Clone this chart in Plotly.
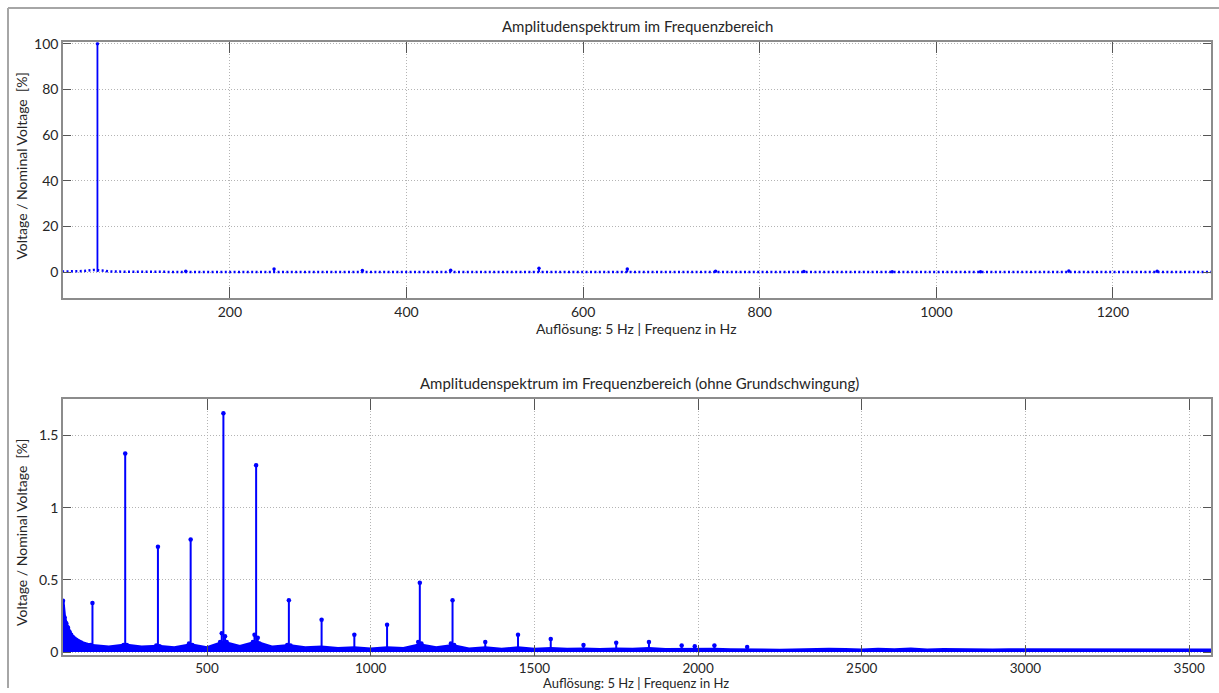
import plotly.graph_objects as go

# ---------------- data ----------------
# fundamental
fund_freq = [50]
fund_amp = [100.0]

# bins below / right next to the fundamental (upper chart only)
low_freq = [10, 15, 20, 25, 30, 35, 40, 45, 55]
low_amp = [0.2, 0.2, 0.25, 0.3, 0.35, 0.45, 0.7, 0.9, 0.7]

# low-frequency decay right of the fundamental (5 Hz bins)
decay_freq = [60, 65, 70, 75, 80, 85, 90, 95, 100, 105, 110, 115, 120, 125, 130, 135, 140, 145]
decay_amp = [0.355, 0.24, 0.2, 0.17, 0.14, 0.12, 0.105, 0.095, 0.085, 0.078, 0.072, 0.066,
             0.06, 0.056, 0.052, 0.05, 0.048, 0.05]

# harmonic peaks
harm_freq = [150, 250, 350, 450, 550, 650, 750, 850, 950, 1050, 1150, 1250, 1350,
             1450, 1550, 1650, 1750, 1850, 1950, 1990, 2050, 2150]
harm_amp = [0.34, 1.375, 0.73, 0.78, 1.655, 1.295, 0.36, 0.225, 0.12, 0.19, 0.48, 0.36, 0.07,
            0.12, 0.09, 0.05, 0.065, 0.07, 0.045, 0.04, 0.045, 0.035]

# side bins at the base of the harmonics
side_freq = [245, 255, 345, 355, 445, 455, 540, 545, 555, 560, 640, 645, 655, 660,
             745, 755, 1145, 1155, 1245, 1255]
side_amp = [0.05, 0.05, 0.045, 0.04, 0.06, 0.05, 0.07, 0.13, 0.11, 0.07, 0.07, 0.12, 0.1, 0.06,
            0.05, 0.045, 0.07, 0.06, 0.06, 0.05]

# noise floor
floor_freq = [150, 200, 250, 300, 350, 400, 450, 500, 550, 600, 650, 700, 750, 800, 850, 900,
              950, 1000, 1050, 1100, 1150, 1200, 1250, 1300, 1350, 1400, 1450, 1500, 1550,
              1600, 1650, 1700, 1750, 1800, 1850, 1900, 1950, 2000, 2050, 2100, 2150, 2200,
              2250, 2300, 2350, 2400, 2450, 2500, 2550, 2600, 2650, 2700, 2750, 2800, 2850,
              2900, 2950, 3000, 3050, 3100, 3150, 3200, 3250, 3300, 3350, 3400, 3450, 3500,
              3550, 3570]
floor_amp = [0.045, 0.035, 0.05, 0.035, 0.04, 0.03, 0.05, 0.03, 0.07, 0.04, 0.07, 0.035,
             0.045, 0.03, 0.035, 0.025, 0.03, 0.022, 0.03, 0.025, 0.05, 0.03, 0.045, 0.022,
             0.03, 0.02, 0.03, 0.02, 0.025, 0.02, 0.022, 0.018, 0.022, 0.02, 0.025, 0.018,
             0.02, 0.02, 0.02, 0.017, 0.018, 0.015, 0.013, 0.016, 0.015, 0.02, 0.018, 0.015,
             0.02, 0.017, 0.021, 0.015, 0.018, 0.016, 0.014, 0.015, 0.016, 0.016, 0.015,
             0.016, 0.014, 0.015, 0.016, 0.014, 0.015, 0.017, 0.015, 0.016, 0.014, 0.015]

top_xticks = [200, 400, 600, 800, 1000, 1200]
top_yticks = [0, 20, 40, 60, 80, 100]
bot_xticks = [500, 1000, 1500, 2000, 2500, 3000, 3500]
bot_yticks = [0, 0.5, 1, 1.5]
bot_yticktext = ["0", "0.5", "1", "1.5"]

title_top = "Amplitudenspektrum im Frequenzbereich"
title_bot = "Amplitudenspektrum im Frequenzbereich (ohne Grundschwingung)"
xlabel = "Auflösung: 5 Hz | Frequenz in Hz"
ylabel = "Voltage / Nominal Voltage  [%]"

# ---------------- figure ----------------
W, H = 1219, 693
BLUE = "#0000ff"
FONT = "Lato"
TXT = "#262626"


def py(ref_px):
    """vertical pixel position (from top) -> paper fraction, corrected for the
    vertical offset/compression observed in the rendered picture"""
    return 1 - ((ref_px - 8) / 0.979) / H


def stems(freqs, amps):
    xs, ys = [], []
    for f, a in zip(freqs, amps):
        xs += [f, f, None]
        ys += [0, a, None]
    return xs, ys


fig = go.Figure()

# ---- upper chart ----
top_floor_f = low_freq + decay_freq + floor_freq
top_floor_a = low_amp + decay_amp + floor_amp
fig.add_trace(go.Scatter(x=top_floor_f, y=top_floor_a, mode="lines",
                         line=dict(color=BLUE, width=2.5, dash="2px,2.4px"),
                         xaxis="x", yaxis="y", hoverinfo="skip"))
sf = fund_freq + harm_freq + side_freq + decay_freq[:1]
sa = fund_amp + harm_amp + side_amp + decay_amp[:1]
sx, sy = stems(sf, sa)
fig.add_trace(go.Scatter(x=sx, y=sy, mode="lines", line=dict(color=BLUE, width=1.8),
                         xaxis="x", yaxis="y", hoverinfo="skip"))
fig.add_trace(go.Scatter(x=fund_freq + harm_freq, y=fund_amp + harm_amp, mode="markers",
                         marker=dict(color=BLUE, size=3.5), xaxis="x", yaxis="y"))

# ---- lower chart ----
bot_floor_f = decay_freq + floor_freq
bot_floor_a = decay_amp + floor_amp
fig.add_trace(go.Scatter(x=bot_floor_f, y=bot_floor_a, mode="lines", fill="tozeroy",
                         fillcolor=BLUE, line=dict(color=BLUE, width=3),
                         xaxis="x2", yaxis="y2", hoverinfo="skip"))
bf = decay_freq + harm_freq + side_freq
ba = decay_amp + harm_amp + side_amp
bx, by = stems(bf, ba)
fig.add_trace(go.Scatter(x=bx, y=by, mode="lines", line=dict(color=BLUE, width=2),
                         xaxis="x2", yaxis="y2", hoverinfo="skip"))
fig.add_trace(go.Scatter(x=bf, y=ba, mode="markers", marker=dict(color=BLUE, size=4.5),
                         xaxis="x2", yaxis="y2"))

axis_common = dict(showline=True, linecolor="#8c8c8c", linewidth=1.5, mirror="ticks",
                   ticks="inside", tickcolor="#555555", tickwidth=1.2,
                   showgrid=True, gridcolor="#b4b4b4", griddash="1px,2px", gridwidth=1,
                   zeroline=False, tickfont=dict(family=FONT, size=14, color=TXT))

x0, x1 = 63 / W, 1211 / W
fig.update_layout(
    width=W, height=H, autosize=False,
    margin=dict(l=0, r=0, t=0, b=0),
    paper_bgcolor="white", plot_bgcolor="white",
    showlegend=False,
    xaxis=dict(domain=[x0, x1], range=[11, 1311], tickvals=top_xticks, ticklen=11,
               anchor="y", **axis_common),
    yaxis=dict(domain=[py(298), py(43)], range=[-11.4, 100.7],
               tickvals=top_yticks, ticklen=8, anchor="x", **axis_common),
    xaxis2=dict(domain=[x0, x1], range=[60, 3567], tickvals=bot_xticks, ticklen=11,
                anchor="y2", **axis_common),
    yaxis2=dict(domain=[py(654), py(399)], range=[-0.023, 1.75],
                tickvals=bot_yticks, ticktext=bot_yticktext, ticklen=8, anchor="x2",
                **axis_common),
)
fig.update_xaxes(tickfont=dict(size=13.5), selector=dict(anchor="y2"))

title_font = dict(family=FONT, size=15, color=TXT)
label_font = dict(family=FONT, size=14, color=TXT)
ann = [
    dict(text=title_top, x=637 / W, y=py(27), font=title_font),
    dict(text=xlabel, x=636 / W, y=py(328), font=label_font),
    dict(text=title_bot, x=639 / W, y=py(383), font=title_font),
    dict(text=xlabel, x=636 / W, y=py(681.5), font=dict(family=FONT, size=13, color=TXT)),
    dict(text=ylabel, x=22 / W, y=py(167), textangle=-90, font=label_font),
    dict(text=ylabel, x=22 / W, y=py(532), textangle=-90, font=label_font),
]
for a in ann:
    fig.add_annotation(xref="paper", yref="paper", showarrow=False, xanchor="center",
                       yanchor="middle", **a)

# outer frame (top and left edges of the exported window)
fy = py(9)
fig.add_shape(type="line", xref="paper", yref="paper", x0=8 / W, x1=1.0,
              y0=fy, y1=fy, line=dict(color="#a6a6a6", width=2))
fig.add_shape(type="line", xref="paper", yref="paper", x0=8 / W, x1=8 / W,
              y0=0, y1=fy, line=dict(color="#a6a6a6", width=2))

fig.write_html("out.html",
               config={"displayModeBar": False},
               post_script="document.body.style.margin='0';"
                           "document.body.style.overflow='hidden';")
